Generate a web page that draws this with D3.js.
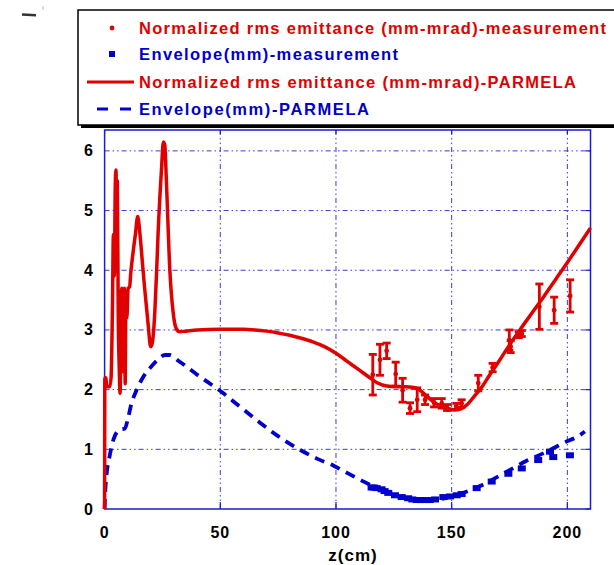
<!DOCTYPE html>
<html>
<head>
<meta charset="utf-8">
<script src="https://cdn.jsdelivr.net/npm/d3@7"></script>
<style>
  html, body { margin: 0; padding: 0; background: #fff; }
  svg { display: block; }
  text { font-family: "Liberation Sans", Arial, sans-serif; font-weight: bold; }
</style>
</head>
<body>
<svg id="chart" width="614" height="565"></svg>
<script>
// ---- data -----------------------------------------------------------
// PARMELA simulation: normalized rms emittance (mm-mrad) vs z (cm)
const emitSimZ = [0,0.1,0.6,0.9,2.2,2.8,3.4,3.8,4.2,4.6,4.9,5.2,5.5,5.9,6.3,6.7,7.1,7.4,7.8,8.1,8.4,8.6,8.9,9.2,9.6,10.2,10.8,11.3,12.3,13.3,14.3,15.3,16.4,17.3,18.8,19.9,20.6,21.7,22.5,23.1,24.6,25.4,26,26.7,28.2,29.6,31,32.5,35,40,50,60,65,70,75,80,85,90,95,100,105,110,115,118,122,126,130,133,136,139,142,145,148,151,154,157,160,163,166,170,175,180,185,190,195,200,205,210];
const emitSimV = [0,2.2,2.2,2.05,2.05,2.2,3.4,4.6,3.9,5.4,5.68,5.1,5.5,3.2,2.4,1.94,3.0,3.7,2.9,2.3,3.6,3.7,2.1,3.6,3.2,3.7,3.72,3.95,4.3,4.6,4.9,4.6,4.1,3.7,3.1,2.72,2.78,3.3,4.0,4.6,5.7,6.15,6.1,5.5,4.0,3.3,3.02,2.97,2.98,3.0,3.01,3.01,3.0,2.98,2.95,2.91,2.86,2.8,2.72,2.61,2.47,2.33,2.19,2.11,2.06,2.05,2.05,2.04,2.0,1.9,1.8,1.73,1.69,1.66,1.68,1.76,1.9,2.04,2.22,2.45,2.75,3.03,3.3,3.57,3.85,4.13,4.42,4.71];

// PARMELA simulation: beam envelope (mm) vs z (cm)
const envSimZ = [0,0.3,0.9,2,3.8,5.5,6.6,8.8,10,11.5,13.9,16.5,19.6,23,26.1,28,32,40,50.6,58,66.4,75,85,92,98.8,105,110,116,122,128,133,138,143,148,155,162,168,175,182,190,198,206.9,207.5];
const envSimV = [0,0.3,0.6,0.85,1.16,1.3,1.33,1.35,1.5,1.75,2.0,2.2,2.36,2.5,2.58,2.58,2.48,2.25,1.96,1.73,1.47,1.22,0.98,0.84,0.73,0.6,0.5,0.38,0.28,0.2,0.16,0.14,0.15,0.19,0.27,0.38,0.5,0.65,0.8,0.94,1.1,1.28,1.3];

// Measured emittance with error bars
const emitMeasZ   = [115.9,119.0,121.9,125.8,128.8,132.0,135.1,138.5,142.4,145.7,148.0,152.0,154.3,161.5,167.7,174.9,175.5,179.0,180.3,187.9,194.3,201.2];
const emitMeasV   = [2.25,2.50,2.65,2.26,1.99,1.69,1.83,1.83,1.78,1.77,1.70,1.72,1.77,2.11,2.37,2.83,2.72,2.92,2.94,3.39,3.33,3.57];
const emitMeasErr = [0.34,0.26,0.13,0.20,0.20,0.09,0.20,0.08,0.07,0.08,0.05,0.05,0.06,0.13,0.07,0.17,0.10,0.05,0.05,0.38,0.22,0.27];

// Measured envelope
const envMeasZ = [115.4,116.5,117.6,119.7,121.0,122.6,125.5,128.4,131.2,133.0,134.9,136.7,138.5,140.5,142.8,146.4,149.3,152.2,154.3,160.8,167.3,174.5,180.3,187.4,192.5,193.9,201.1];
const envMeasV = [0.36,0.36,0.35,0.33,0.30,0.27,0.23,0.20,0.18,0.16,0.15,0.15,0.15,0.15,0.16,0.20,0.21,0.23,0.25,0.35,0.46,0.59,0.68,0.82,0.96,0.87,0.90];

// Axes
const xTicks = [0, 50, 100, 150, 200];
const yTicks = [0, 1, 2, 3, 4, 5, 6];
const xTitle = "z(cm)";

// Legend entries
const legendLabels = [
  "Normalized rms emittance (mm-mrad)-measurement",
  "Envelope(mm)-measurement",
  "Normalized rms emittance (mm-mrad)-PARMELA",
  "Envelope(mm)-PARMELA"
];

// ---- drawing --------------------------------------------------------
const RED = "#e00000", BLUE = "#0000cc", GRID = "#3a3ae0";
const svg = d3.select("#chart");

const x = d3.scaleLinear().domain([0, 210]).range([104.6, 590.5]);
const y = d3.scaleLinear().domain([0, 6.35]).range([509, 130]);

// grid
const grid = svg.append("g");
grid.selectAll("line.hg").data(yTicks.filter(d => d > 0)).join("line")
  .attr("x1", x(0)).attr("x2", x(210))
  .attr("y1", d => y(d)).attr("y2", d => y(d))
  .attr("stroke", GRID).attr("stroke-width", 1)
  .attr("stroke-dasharray", "5,3,1.5,3,1.5,3");
grid.selectAll("line.vg").data(xTicks.filter(d => d > 0)).join("line")
  .attr("x1", d => x(d)).attr("x2", d => x(d))
  .attr("y1", y(0)).attr("y2", y(6.35))
  .attr("stroke", GRID).attr("stroke-width", 1)
  .attr("stroke-dasharray", "5,3,1.5,3,1.5,3");

// frame
svg.append("rect")
  .attr("x", x(0)).attr("y", y(6.35))
  .attr("width", x(210) - x(0)).attr("height", y(0) - y(6.35))
  .attr("fill", "none").attr("stroke", "#1a1ad8").attr("stroke-width", 1.5);

// inward ticks on top, bottom and right
svg.append("g").selectAll("line").data(xTicks).join("line")
  .attr("x1", d => x(d)).attr("x2", d => x(d))
  .attr("y1", y(6.35)).attr("y2", y(6.35) + 4)
  .attr("stroke", "#1a1ad8").attr("stroke-width", 1.2);
svg.append("g").selectAll("line").data(xTicks).join("line")
  .attr("x1", d => x(d)).attr("x2", d => x(d))
  .attr("y1", y(0)).attr("y2", y(0) - 7)
  .attr("stroke", "#1a1ad8").attr("stroke-width", 1.2);
svg.append("g").selectAll("line").data(yTicks).join("line")
  .attr("x1", x(210)).attr("x2", x(210) - 5)
  .attr("y1", d => y(d)).attr("y2", d => y(d))
  .attr("stroke", "#1a1ad8").attr("stroke-width", 1.2);

// tick labels
svg.append("g").selectAll("text").data(yTicks).join("text")
  .attr("x", 93).attr("y", d => y(d) + 5.5)
  .attr("text-anchor", "end").attr("font-size", 16)
  .text(d => d);
svg.append("g").selectAll("text").data(xTicks).join("text")
  .attr("x", d => x(d)).attr("y", 538)
  .attr("text-anchor", "middle").attr("font-size", 16)
  .attr("letter-spacing", 1)
  .text(d => d);
svg.append("text")
  .attr("x", 353).attr("y", 561)
  .attr("text-anchor", "middle").attr("font-size", 17)
  .attr("letter-spacing", 1)
  .text(xTitle);

// simulated envelope (dashed blue)
const envPts = envSimZ.map((z, i) => [z, envSimV[i]]);
svg.append("path")
  .attr("d", d3.line().curve(d3.curveMonotoneX).x(d => x(d[0])).y(d => y(d[1]))(envPts))
  .attr("fill", "none").attr("stroke", BLUE).attr("stroke-width", 3.8)
  .attr("stroke-dasharray", "10,7");

// measured envelope squares
svg.append("g").selectAll("rect").data(envMeasZ.map((z, i) => [z, envMeasV[i]])).join("rect")
  .attr("x", d => x(d[0]) - 4).attr("y", d => y(d[1]) - 3)
  .attr("width", 8).attr("height", 6)
  .attr("fill", BLUE);

// simulated emittance (solid red)
const emitPts = emitSimZ.map((z, i) => [z, emitSimV[i]]);
svg.append("path")
  .attr("d", d3.line().curve(d3.curveMonotoneX).x(d => x(d[0])).y(d => y(d[1]))(emitPts))
  .attr("fill", "none").attr("stroke", RED).attr("stroke-width", 3.5)
  .attr("stroke-linejoin", "round");

// measured emittance with error bars
const meas = emitMeasZ.map((z, i) => ({ z, v: emitMeasV[i], e: emitMeasErr[i] }));
const eb = svg.append("g").attr("stroke", RED).attr("stroke-width", 2.8);
eb.selectAll("line.bar").data(meas).join("line")
  .attr("x1", d => x(d.z)).attr("x2", d => x(d.z))
  .attr("y1", d => y(d.v + d.e)).attr("y2", d => y(d.v - d.e));
eb.selectAll("line.top").data(meas).join("line")
  .attr("x1", d => x(d.z) - 4).attr("x2", d => x(d.z) + 4)
  .attr("y1", d => y(d.v + d.e)).attr("y2", d => y(d.v + d.e));
eb.selectAll("line.bot").data(meas).join("line")
  .attr("x1", d => x(d.z) - 4).attr("x2", d => x(d.z) + 4)
  .attr("y1", d => y(d.v - d.e)).attr("y2", d => y(d.v - d.e));
svg.append("g").selectAll("circle").data(meas).join("circle")
  .attr("cx", d => x(d.z)).attr("cy", d => y(d.v)).attr("r", 2.4)
  .attr("fill", RED);

// small mark at top-left corner
svg.append("path").attr("d", "M22,14.5 L36,15.2").attr("stroke", "#333").attr("stroke-width", 2.5);
svg.append("path").attr("d", "M43,6 L43,10").attr("stroke", "#bbb").attr("stroke-width", 1);

// legend
const lg = svg.append("g");
lg.append("rect").attr("x", 81).attr("y", 13).attr("width", 560).attr("height", 115).attr("fill", "#000");
lg.append("rect").attr("x", 78).attr("y", 10).attr("width", 560).attr("height", 115)
  .attr("fill", "#fff").attr("stroke", "#000").attr("stroke-width", 1.5);

const rowY = [28, 54, 82, 109];
const rowW = [467, 259, 437, 230];
const rowC = [RED, BLUE, RED, BLUE];
lg.selectAll("text").data(legendLabels).join("text")
  .attr("x", 139).attr("y", (d, i) => rowY[i] + 6)
  .attr("font-size", 16.5)
  .attr("fill", (d, i) => rowC[i])
  .attr("textLength", (d, i) => rowW[i])
  .attr("lengthAdjust", "spacing")
  .text(d => d);
lg.append("circle").attr("cx", 112).attr("cy", rowY[0]).attr("r", 2.4).attr("fill", RED);
lg.append("rect").attr("x", 109).attr("y", rowY[1] - 3).attr("width", 6).attr("height", 6).attr("fill", BLUE);
lg.append("line").attr("x1", 87).attr("x2", 134).attr("y1", rowY[2]).attr("y2", rowY[2])
  .attr("stroke", RED).attr("stroke-width", 3);
lg.append("line").attr("x1", 97).attr("x2", 132).attr("y1", rowY[3]).attr("y2", rowY[3])
  .attr("stroke", BLUE).attr("stroke-width", 3).attr("stroke-dasharray", "11,12");
</script>
</body>
</html>
